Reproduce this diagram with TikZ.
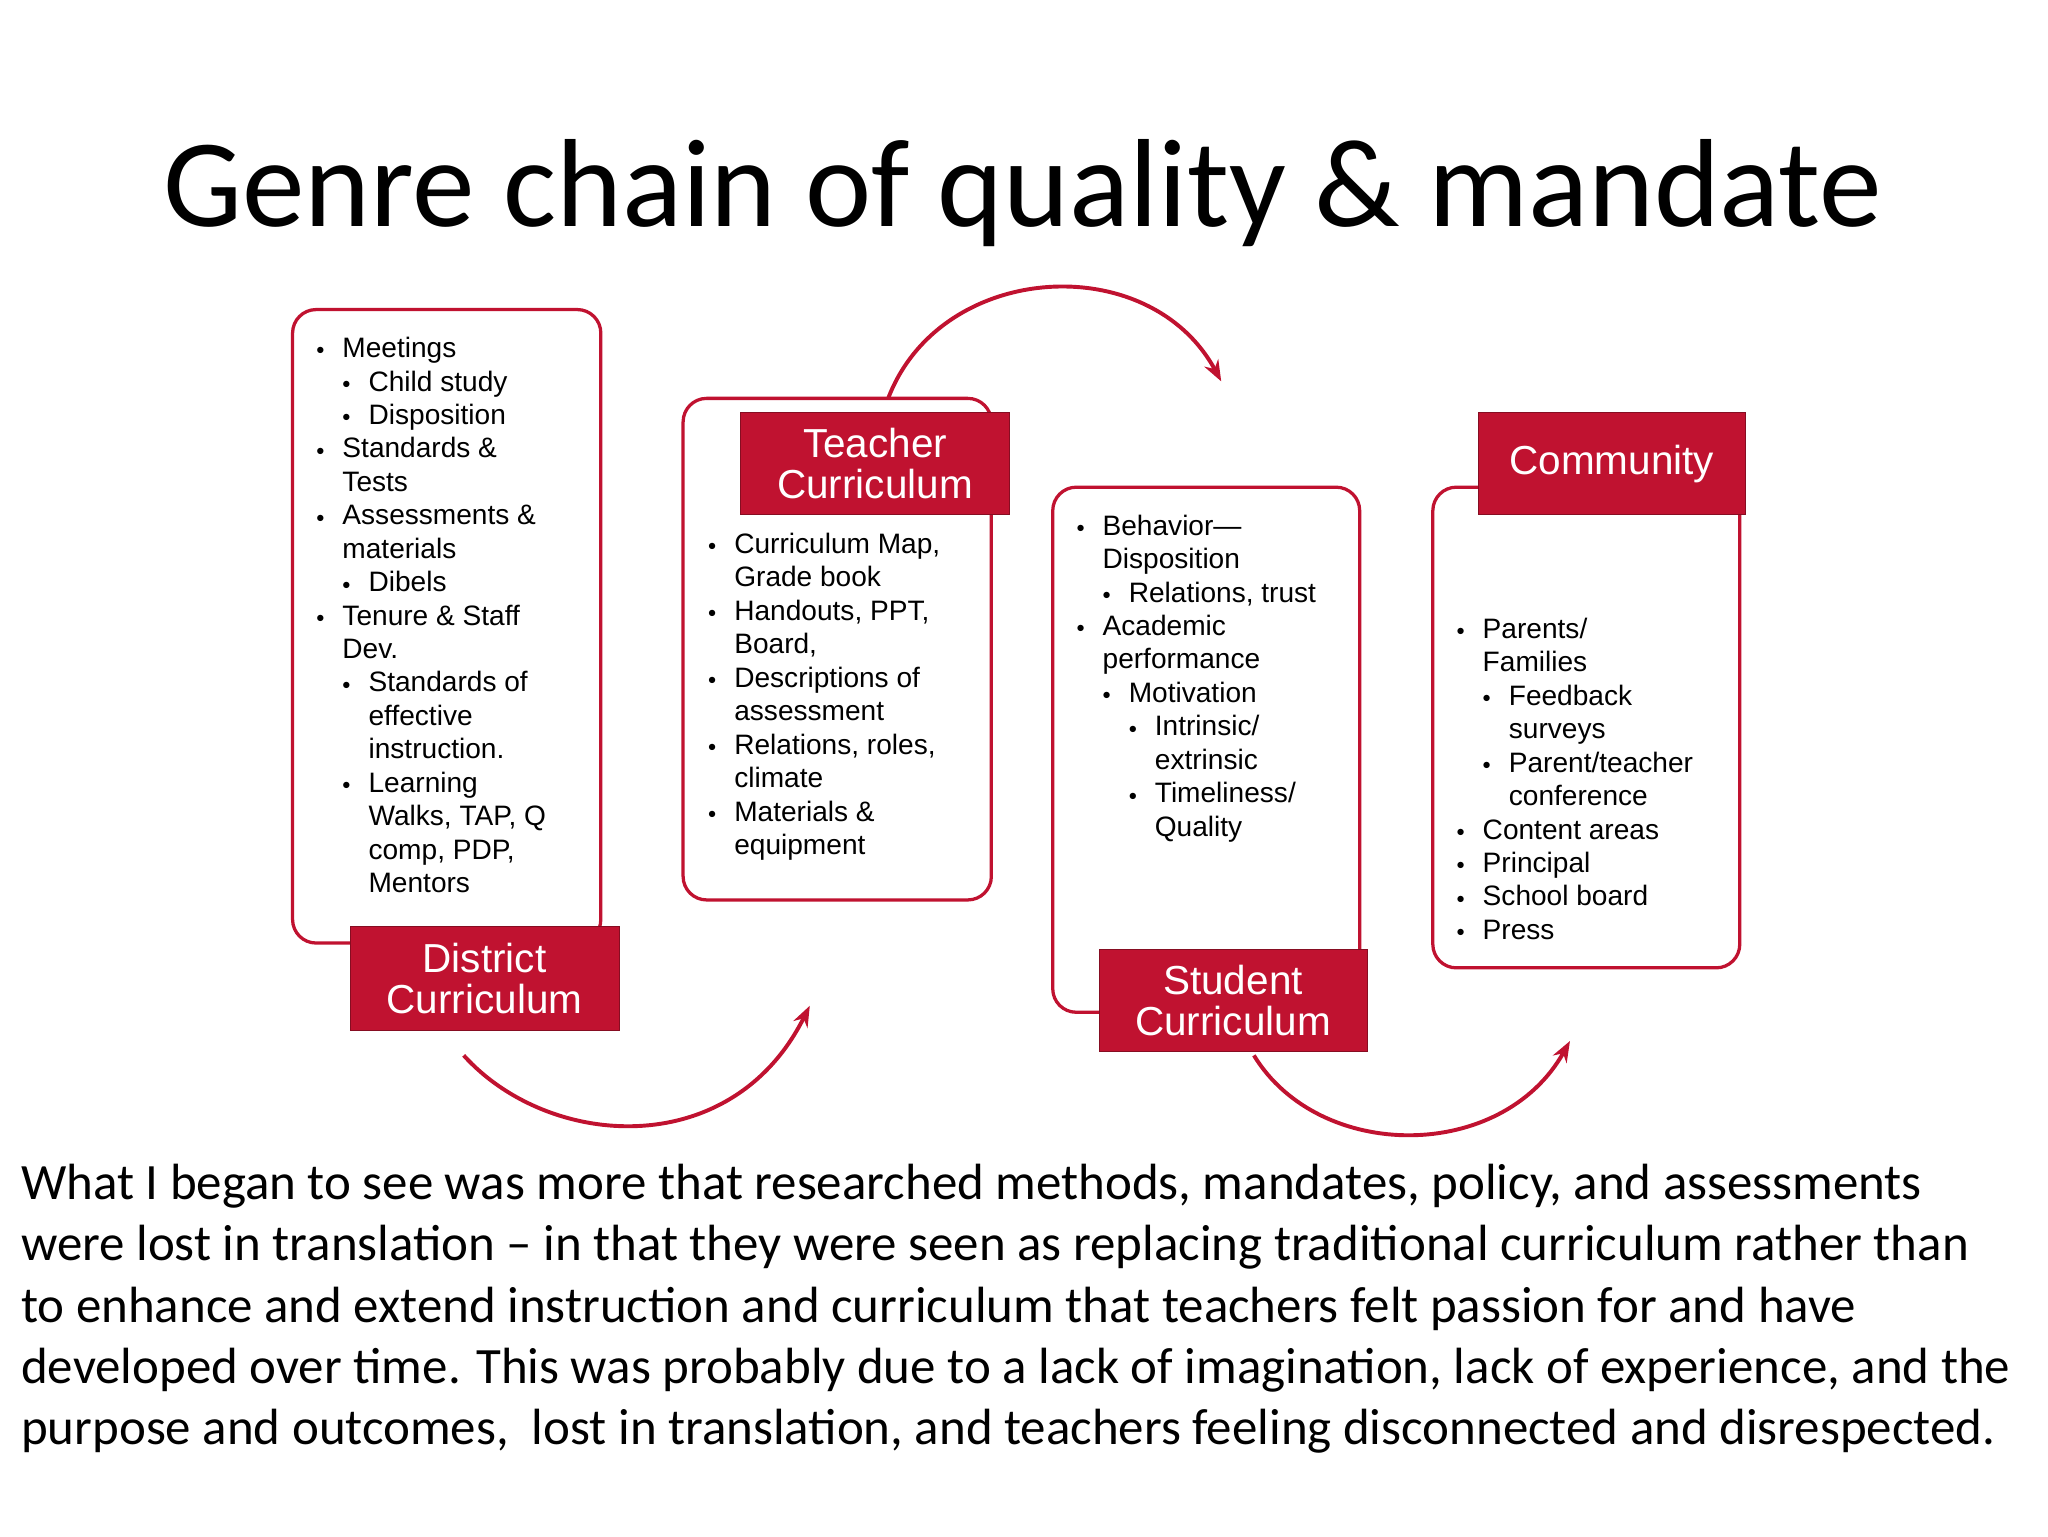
\documentclass[tikz,border=0pt]{standalone}
\usepackage{fontspec}
\setmainfont{Carlito}
\newfontfamily\arialf{Liberation Sans}
\usetikzlibrary{arrows.meta}
\definecolor{dred}{RGB}{192,18,48}
\newcommand{\Bt}{\makebox[20pt][l]{\raisebox{2pt}{\scalebox{0.6}{$\bullet$}}}}
\newcommand{\Ba}{\Bt}
\newcommand{\Bb}{\hspace*{20pt}\Bt}
\newcommand{\Bc}{\hspace*{40pt}\Bt}
\newcommand{\Ca}{\hspace*{20pt}}
\newcommand{\Cb}{\hspace*{40pt}}
\newcommand{\Cc}{\hspace*{60pt}}
\begin{document}
\begin{tikzpicture}[x=1pt,y=-1pt,
  frame/.style={draw=dred,line width=2.5pt,rounded corners=18pt},
  lbl/.style={fill=dred,draw=dred!70!black,text=white,font=\arialf\fontsize{31}{35}\selectfont,align=center,inner sep=0pt},
  lst/.style={anchor=north west,align=left,inner sep=0pt,font=\arialf\fontsize{21.5}{25.6}\selectfont},
  arc/.style={draw=dred,line width=3pt,-{Stealth[length=16pt,width=12pt]}}]
\useasboundingbox (0,0) rectangle (1568,1176);
\node[anchor=center,font=\fontsize{96}{100}\selectfont] (title) at (783,148) {Genre chain of quality \& mandate};
% arcs
\coordinate (a1s) at (355,808); \coordinate (a1e) at (620,770);
\draw[arc] (a1s) .. controls (420,880) and (560,890) .. (a1e);
\coordinate (a2s) at (680,305); \coordinate (a2e) at (935,292);
\draw[arc] (a2s) .. controls (720,200) and (880,190) .. (a2e);
\coordinate (a3s) at (960,808); \coordinate (a3e) at (1202,797);
\draw[arc] (a3s) .. controls (1010,890) and (1150,890) .. (a3e);
% frames
\draw[frame,fill=white] (224,237) rectangle (460,722);
\draw[frame,fill=white] (523,305) rectangle (759,689);
\draw[frame,fill=white] (806,373) rectangle (1041,775);
\draw[frame,fill=white] (1097,373) rectangle (1332,741);
% labels
\node[lbl,minimum width=206pt,minimum height=80pt] (dc) at (371,749) {District\\[-4pt]Curriculum};
\node[lbl,minimum width=206pt,minimum height=78pt] (tc) at (670,355) {Teacher\\[-4pt]Curriculum};
\node[lbl,minimum width=205pt,minimum height=78pt] (sc) at (944,766) {Student\\[-4pt]Curriculum};
\node[lbl,minimum width=205pt,minimum height=78pt] (cm) at (1234,355) {Community};
% lists
\node[lst] (l1) at (242,258) {\Ba Meetings\\ \Bb Child study\\ \Bb Disposition\\ \Ba Standards \&\\ \Ca Tests\\ \Ba Assessments \&\\ \Ca materials\\ \Bb Dibels\\ \Ba Tenure \& Staff\\ \Ca Dev.\\ \Bb Standards of\\ \Cb effective\\ \Cb instruction.\\ \Bb Learning\\ \Cb Walks, TAP,\ Q\\ \Cb comp, PDP,\\ \Cb Mentors};
\node[lst] (l2) at (542,408) {\Ba Curriculum Map,\\ \Ca Grade book\\ \Ba Handouts, PPT,\\ \Ca Board,\\ \Ba Descriptions of\\ \Ca assessment\\ \Ba Relations, roles,\\ \Ca climate\\ \Ba Materials \&\\ \Ca equipment};
\node[lst] (l3) at (824,394) {\Ba Behavior—\\ \Ca Disposition\\ \Bb Relations, trust\\ \Ba Academic\\ \Ca performance\\ \Bb Motivation\\ \Bc Intrinsic/\\ \Cc extrinsic\\ \Bc Timeliness/\\ \Cc Quality};
\node[lst] (l4) at (1115,473) {\Ba Parents/\\ \Ca Families\\ \Bb Feedback\\ \Cb surveys\\ \Bb Parent/teacher\\ \Cb conference\\ \Ba Content areas\\ \Ba Principal\\ \Ba School board\\ \Ba Press};
% body
\node[anchor=north west,align=left,inner sep=0pt,font=\fontsize{39}{47}\selectfont] (body) at (16,891) {What I began to see was more that researched methods, mandates, policy, and assessments\\ were lost in translation -- in that they were seen as replacing traditional curriculum rather than\\ to enhance and extend instruction and curriculum that teachers felt passion for and have\\ developed over time. This was probably due to a lack of imagination, lack of experience, and the\\ purpose and outcomes,\ \ lost in translation, and teachers feeling disconnected and disrespected.};
\end{tikzpicture}
\end{document}
